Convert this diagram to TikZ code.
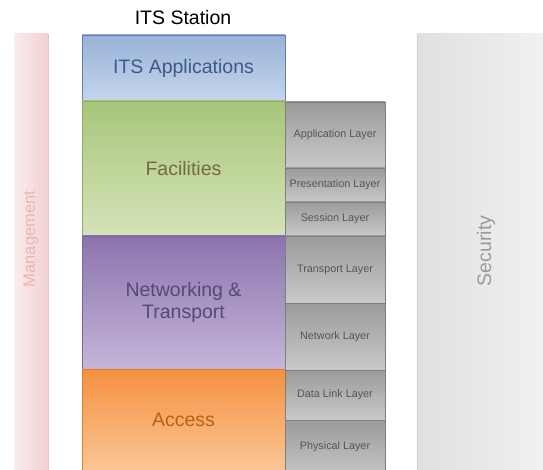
\documentclass[tikz,border=0pt]{standalone}
\usepackage{fontspec}
\setmainfont{Liberation Sans}
\definecolor{appT}{HTML}{98B2D8}\definecolor{appB}{HTML}{C5D6EC}\definecolor{appD}{HTML}{5F7FAF}\definecolor{appX}{HTML}{3E5A8A}
\definecolor{facT}{HTML}{A8C679}\definecolor{facB}{HTML}{D5E3B9}\definecolor{facD}{HTML}{8FAA68}\definecolor{facX}{HTML}{76693E}
\definecolor{netT}{HTML}{8B73AD}\definecolor{netB}{HTML}{C5B6DA}\definecolor{netD}{HTML}{7A689A}\definecolor{netX}{HTML}{55487A}
\definecolor{accT}{HTML}{F5913F}\definecolor{accB}{HTML}{FBCA9E}\definecolor{accD}{HTML}{DE7F30}\definecolor{accX}{HTML}{BE5E12}
\definecolor{osiT}{HTML}{9B9B9B}\definecolor{osiB}{HTML}{C9C9C9}\definecolor{osiD}{HTML}{7E7E7E}\definecolor{osiX}{HTML}{555555}
\definecolor{mgL}{HTML}{FAEDED}\definecolor{mgR}{HTML}{F0D0D0}\definecolor{mgD}{HTML}{E2C6C6}\definecolor{mgX}{HTML}{EFB3B3}
\definecolor{seL}{HTML}{E0E0E0}\definecolor{seR}{HTML}{F1F1F1}\definecolor{seD}{HTML}{CFCFCF}\definecolor{seX}{HTML}{9A9A9A}
\begin{document}
\begin{tikzpicture}[x=1pt,y=-1pt,
  box/.style={inner sep=0pt, minimum width=203pt, align=center, font=\fontsize{19.5pt}{22pt}\selectfont, line width=0.8pt},
  osi/.style={inner sep=0pt, minimum width=100pt, draw=osiD, top color=osiT, bottom color=osiB, text=osiX, font=\fontsize{10.8pt}{13pt}\selectfont, line width=0.8pt},
  side/.style={inner sep=0pt, line width=0.8pt},
  sidetext/.style={rotate=90, inner sep=0pt}
]
\clip (0,0) rectangle (543,470);
\useasboundingbox (0,0) rectangle (543,470);
% side bars
\node[side, minimum width=34pt, minimum height=440pt, left color=mgL, right color=mgR] (mgmt) at (31,254) {};
\draw[mgD, line width=1.2pt] (mgmt.north east) -- (mgmt.south east);
\node[sidetext, text=mgX, font=\fontsize{16.5pt}{18pt}\selectfont] (mgmtlabel) at (31,239) {Management};
\node[side, minimum width=127pt, minimum height=440pt, left color=seL, right color=seR] (sec) at (481.5,254) {};
\draw[seD, line width=1.2pt] (sec.north west) -- (sec.south west);
\node[sidetext, text=seX, font=\fontsize{19.5pt}{22pt}\selectfont] (seclabel) at (486,251) {Security};
% title
\node[font=\fontsize{19.5pt}{22pt}\selectfont] (title) at (183,18) {ITS Station};
% main stack
\node[box, minimum height=66pt, draw=appD, top color=appT, bottom color=appB, text=appX] (app) at (183.5,68) {ITS Applications};
\node[box, minimum height=135pt, draw=facD, top color=facT, bottom color=facB, text=facX] (fac) at (183.5,168.5) {Facilities};
\node[box, minimum height=133pt, draw=netD, top color=netT, bottom color=netB, text=netX] (net) at (183.5,302.5) {Networking \&\\Transport};
\node[box, minimum height=110pt, draw=accD, top color=accT, bottom color=accB, text=accX] (acc) at (183.5,424) {\raisebox{8pt}{Access}};
% OSI column
\node[osi, minimum height=66pt] (l7) at (335,135) {Application Layer};
\node[osi, minimum height=34pt] (l6) at (335,185) {Presentation Layer};
\node[osi, minimum height=34pt] (l5) at (335,219) {Session Layer};
\node[osi, minimum height=67pt] (l4) at (335,269.5) {Transport Layer};
\node[osi, minimum height=67pt] (l3) at (335,336.5) {Network Layer};
\node[osi, minimum height=50pt] (l2) at (335,395) {Data Link Layer};
\node[osi, minimum height=60pt] (l1) at (335,450) {\raisebox{8pt}{Physical Layer}};
\end{tikzpicture}
\end{document}
